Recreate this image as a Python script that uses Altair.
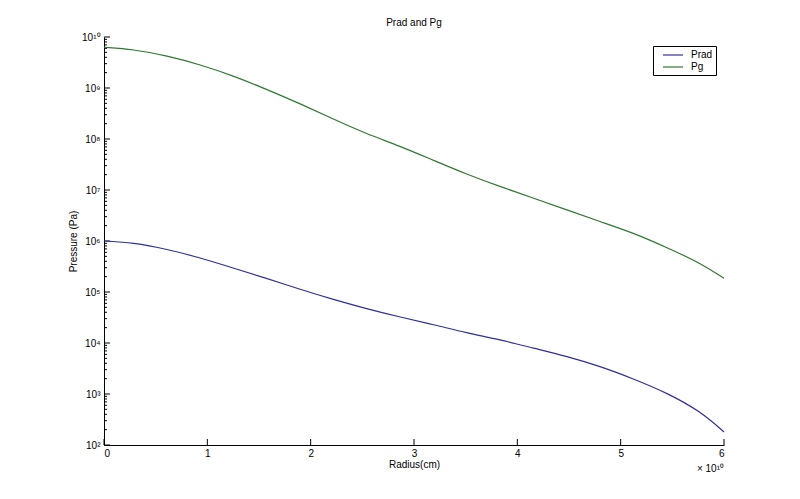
import pandas as pd
import altair as alt

# radius in units of 1e10 cm
radius = [0, 0.28, 0.61, 0.93, 1.25, 1.57, 1.90, 2.22, 2.54, 2.87,
          3.19, 3.51, 3.83, 4.16, 4.48, 4.80, 5.12, 5.45, 5.77, 6.0]
prad = [1.0e6, 9.3e5, 6.9e5, 4.7e5, 2.95e5, 1.86e5, 1.12e5, 7.1e4, 4.7e4, 3.2e4,
        2.3e4, 1.58e4, 1.17e4, 7.9e3, 5.5e3, 3.5e3, 2.0e3, 1.05e3, 4.6e2, 1.8e2]
pg = [6.3e9, 5.75e9, 4.27e9, 2.88e9, 1.74e9, 9.5e8, 4.9e8, 2.45e8, 1.26e8, 7.2e7,
      3.8e7, 2.04e7, 1.17e7, 6.9e6, 4.07e6, 2.4e6, 1.45e6, 7.4e5, 3.7e5, 1.86e5]

x_ticks = [0, 1, 2, 3, 4, 5, 6]
y_major = [10.0 ** n for n in range(2, 11)]
y_minor = [k * 10.0 ** n for n in range(2, 10) for k in range(2, 10)]

W, H = 620, 408
FONT = "Liberation Sans"

df = pd.concat([
    pd.DataFrame({'r': radius, 'p': prad, 'series': 'Prad'}),
    pd.DataFrame({'r': radius, 'p': pg, 'series': 'Pg'}),
])

xscale = alt.Scale(domain=[0, 6], nice=False)
yscale = alt.Scale(type='log', domain=[1e2, 1e10], nice=False)

sup_expr = ("datum.value >= 1e10 ? '10\u00b9\u2070' : '10' + substring("
            "'\u2070\u00b9\u00b2\u00b3\u2074\u2075\u2076\u2077\u2078\u2079', "
            "round(log(datum.value)/LN10), round(log(datum.value)/LN10)+1)")

lines = alt.Chart(df).mark_line(strokeWidth=1.2, interpolate='basis').encode(
    x=alt.X('r:Q', scale=xscale,
            axis=alt.Axis(values=x_ticks, format='d', ticks=False, grid=False,
                          labelPadding=3, title='Radius(cm)', titlePadding=1)),
    y=alt.Y('p:Q', scale=yscale,
            axis=alt.Axis(values=y_major, ticks=False, grid=False, labelPadding=4,
                          labelExpr=sup_expr, title='Pressure (Pa)', titlePadding=3)),
    color=alt.Color('series:N',
                    scale=alt.Scale(domain=['Prad', 'Pg'], range=['#2f2f9e', '#2f7a2f']),
                    legend=alt.Legend(title=None, orient='none', legendX=549, legendY=9,
                                      symbolType='M0.2,0H4.2', symbolSize=100,
                                      symbolStrokeWidth=1.2, strokeColor='#000000',
                                      fillColor='white', padding=3, rowPadding=1,
                                      labelFontSize=10, labelFont=FONT,
                                      labelColor='black', labelOffset=23,
                                      cornerRadius=0))
)

major_y = alt.Chart(pd.DataFrame({'v': y_major})).mark_rule(color='black').encode(
    y=alt.Y('v:Q', scale=yscale), x=alt.value(0), x2=alt.value(6))
minor_y = alt.Chart(pd.DataFrame({'v': y_minor})).mark_rule(color='black').encode(
    y=alt.Y('v:Q', scale=yscale), x=alt.value(0), x2=alt.value(3))
major_x = alt.Chart(pd.DataFrame({'t': x_ticks})).mark_rule(color='black').encode(
    x=alt.X('t:Q', scale=xscale), y=alt.value(H), y2=alt.value(H - 6))

mult = alt.Chart(pd.DataFrame({'t': [6]})).mark_text(
    text='\u00d7 10\u00b9\u2070', align='right', baseline='middle',
    font=FONT, fontSize=10, color='black'
).encode(x=alt.X('t:Q', scale=xscale), y=alt.value(H + 24))

chart = alt.layer(major_y, minor_y, major_x, lines, mult).properties(
    width=W, height=H,
    title=alt.TitleParams('Prad and Pg', fontSize=10, fontWeight='normal',
                          font=FONT, color='black', offset=4),
    autosize=alt.AutoSizeParams(type='none'),
    padding={'left': 96, 'top': 29, 'right': 60, 'bottom': 40},
    background='white',
).configure_view(stroke=None).configure_axis(
    domainColor='black', domainWidth=1, labelColor='black', labelFont=FONT,
    labelFontSize=10, titleFont=FONT, titleFontSize=10, titleFontWeight='normal',
    titleColor='black'
)

chart.save("out.html", embed_options={"renderer": "svg", "actions": False})
